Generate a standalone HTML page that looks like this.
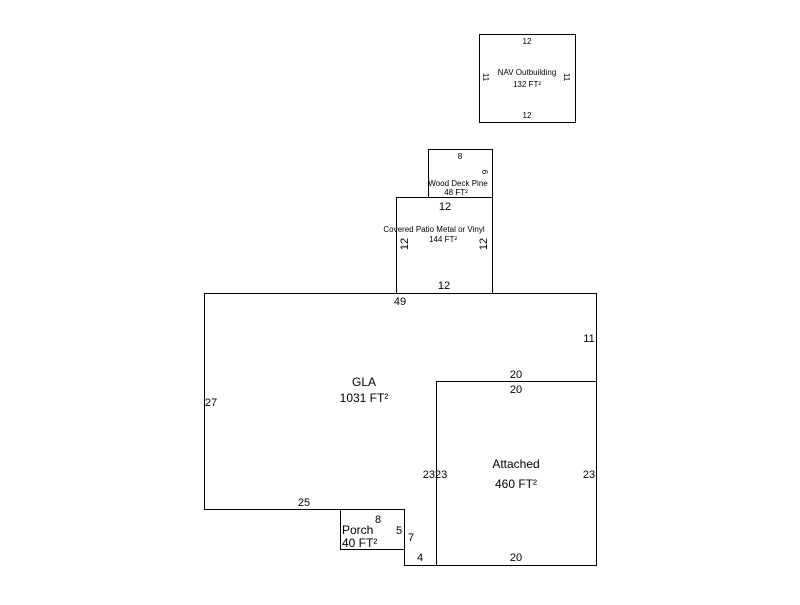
<!DOCTYPE html>
<html><head><style>body{margin:0;background:#fff}</style></head><body>
<svg width="800" height="600" xmlns="http://www.w3.org/2000/svg" font-family="Liberation Sans, Arial, sans-serif" fill="none" stroke="#000" stroke-width="1">
<rect x="479.5" y="34.5" width="96" height="88"/>
<rect x="428.5" y="149.5" width="64" height="48"/>
<rect x="396.5" y="197.5" width="96" height="96"/>
<polyline points="404.5,509.5 204.5,509.5 204.5,293.5 596.5,293.5 596.5,565.5 404.5,565.5 404.5,509.5"/>
<rect x="340.5" y="509.5" width="64" height="40"/>
<rect x="436.5" y="381.5" width="160" height="184"/>
<g fill="#000" stroke="none" text-anchor="middle">
<g font-size="8">
<text x="527" y="44">12</text>
<text x="527" y="118">12</text>
<text x="527" y="75">NAV Outbuilding</text>
<text x="527" y="87">132 FT²</text>
<text transform="translate(483,77) rotate(90)">11</text>
<text transform="translate(564,77) rotate(90)">11</text>
<text x="460" y="159">8</text>
<text transform="translate(482,172) rotate(90)">6</text>
<text x="458" y="186">Wood Deck Pine</text>
<text x="456" y="195">48 FT²</text>
<text x="434" y="232">Covered Patio Metal or Vinyl</text>
<text x="443" y="242">144 FT²</text>
</g>
<g font-size="11">
<text x="445" y="210">12</text>
<text x="444" y="289">12</text>
<text transform="translate(408,244) rotate(-90)">12</text>
<text transform="translate(487,244) rotate(-90)">12</text>
<text x="400" y="305">49</text>
<text x="589" y="342">11</text>
<text x="211" y="406">27</text>
<text x="304" y="506">25</text>
<text x="516" y="378">20</text>
<text x="516" y="393">20</text>
<text x="435" y="478">2323</text>
<text x="589" y="478">23</text>
<text x="516" y="561">20</text>
<text x="420" y="561">4</text>
<text x="411" y="541">7</text>
<text x="399" y="534">5</text>
<text x="378" y="523">8</text>
<text x="364" y="386" font-size="12">GLA</text>
<text x="364" y="402" font-size="12">1031 FT²</text>
<text x="516" y="468" font-size="12">Attached</text>
<text x="516" y="488" font-size="12">460 FT²</text>
<text x="342" y="534" text-anchor="start" font-size="12">Porch</text>
<text x="342" y="547" text-anchor="start" font-size="12">40 FT²</text>
</g>
</g>
</svg>
</body></html>
